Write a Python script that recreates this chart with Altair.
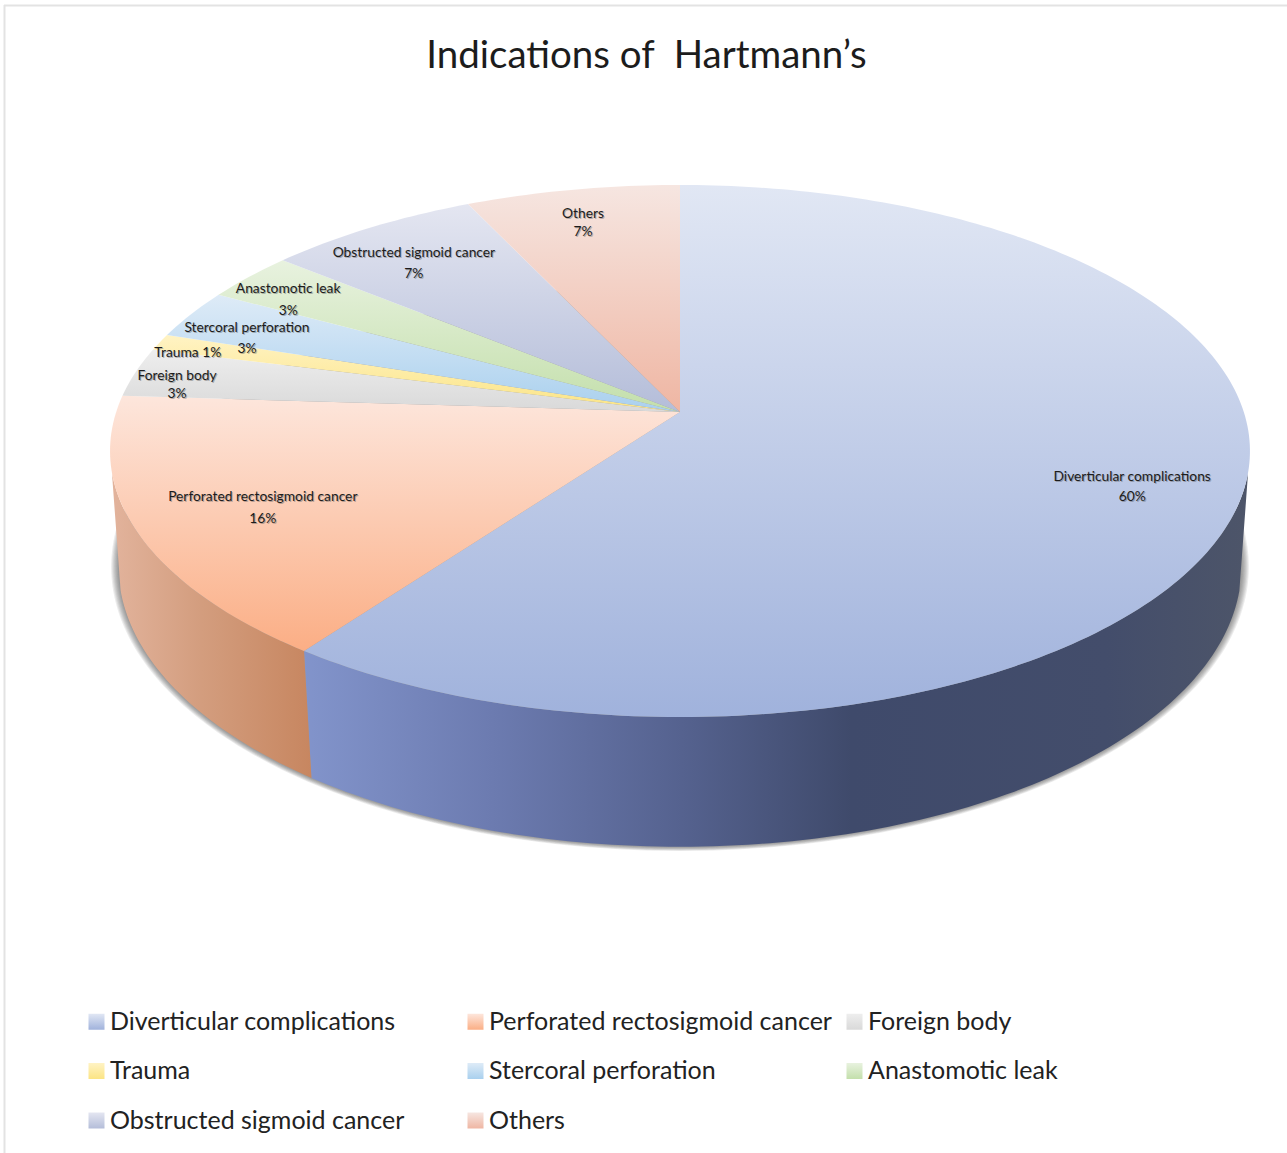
import math
import altair as alt
import pandas as pd

# Share of each indication, clockwise from twelve o'clock
categories = ["Diverticular complications", "Perforated rectosigmoid cancer", "Foreign body", "Trauma",
              "Stercoral perforation", "Anastomotic leak", "Obstructed sigmoid cancer", "Others"]
values = [60, 16, 3, 1, 3, 3, 7, 7]

# Upper and lower shade of each slice's vertical gradient
shade_top = ["#e1e7f4", "#fde6dc", "#eeeeee", "#fff3c4", "#deebf7", "#e8f2df", "#e4e6f1", "#f6e6e1"]
shade_bottom = ["#a0b2dc", "#fbae85", "#d9d9d9", "#fbe484", "#a9d0ee", "#c3dfab", "#b4bdd9", "#efb6a3"]

# Where the two text lines of each slice label sit, in pie coordinates
label_u = [0.802, -0.740, -0.892, -0.873, -0.768, -0.695, -0.472, -0.172]
label_v_name = [-0.246, -0.323, 0.142, 0.230, 0.327, 0.476, 0.615, 0.765]
label_v_pct = [-0.323, -0.407, 0.073, None, 0.246, 0.392, 0.534, 0.695]

# Perspective of the tilted disc: top face and bottom face
TILT_TOP = 0.1466
TILT_BOTTOM = 0.14
WIDTH_PX, HEIGHT_PX = 1287, 1153
CX, CY, RX, RY = 680.0, 412.0, 563.8, 260.3
BOTTOM_SCALE_X, BOTTOM_SCALE_Y, BOTTOM_DROP = 556.0 / RX, 275.0 / RY, 115.0 / RY
WALL_TURN = 103.0  # angle at which the disc's side wall leaves the silhouette


def top_face(deg):
    t = math.radians(deg)
    d = 1 + TILT_TOP * math.cos(t)
    return math.sin(t) / d, math.cos(t) / d


def bottom_face(deg, grow=1.0):
    t = math.radians(deg)
    d = 1 + TILT_BOTTOM * math.cos(t)
    return (grow * BOTTOM_SCALE_X * math.sin(t) / d,
            grow * BOTTOM_SCALE_Y * math.cos(t) / d - BOTTOM_DROP)


def sweep(a, b):
    n = max(2, int(abs(b - a)))
    return [a + (b - a) * i / n for i in range(n + 1)]


x_scale = alt.Scale(domain=[-CX / RX, (WIDTH_PX - CX) / RX], range=[0, WIDTH_PX], nice=False, zero=False)
y_scale = alt.Scale(domain=[(CY - HEIGHT_PX) / RY, CY / RY], range=[HEIGHT_PX, 0], nice=False, zero=False)
x_enc = alt.X("u:Q", scale=x_scale, axis=None)
y_enc = alt.Y("v:Q", scale=y_scale, axis=None)

# Top-face slices
rows = []
edges = [0]
for val in values:
    edges.append(edges[-1] + val * 3.6)
for i, cat in enumerate(categories):
    pts = [(0.0, 0.0)] + [top_face(d) for d in sweep(edges[i], edges[i + 1])]
    for j, (u, v) in enumerate(pts):
        rows.append({"category": cat, "step": j, "u": u, "v": v})
slices_df = pd.DataFrame(rows)


def gradient_expr(c0, c1):
    return {"expr": "{gradient:'linear',x1:0,y1:0,x2:0,y2:1,stops:[{offset:0,color:'%s'},{offset:1,color:'%s'}]}" % (c0, c1)}


slices = alt.Chart(slices_df).mark_line(strokeWidth=0, interpolate="linear").encode(
    x=x_enc,
    y=y_enc,
    order="step:Q",
    detail="category:N",
    fill=alt.Fill(
        "category:N",
        scale=alt.Scale(domain=categories, range=[gradient_expr(a, b) for a, b in zip(shade_top, shade_bottom)]),
        sort=categories,
        legend=alt.Legend(
            title=None, orient="none", legendX=84, legendY=1009, columns=3, gridAlign="all", direction="horizontal",
            symbolType="square", symbolSize=256, symbolStrokeWidth=0, symbolOpacity=1,
            labelFont="Lato", labelFontSize=25, labelColor="#222222", labelOffset=1,
            labelLimit=500, columnPadding=10, rowPadding=23.5, symbolOffset=0,
        ),
    ),
)


def wall(start, end, stops):
    pts = [top_face(d) for d in sweep(start, end)] + [bottom_face(d) for d in sweep(end, start)]
    df = pd.DataFrame({"u": [p[0] for p in pts], "v": [p[1] for p in pts], "step": range(len(pts))})
    grad = alt.LinearGradient(gradient="linear", stops=[alt.GradientStop(color=c, offset=o) for o, c in stops],
                              x1=0, x2=1, y1=0, y2=0)
    return alt.Chart(df).mark_line(fill=grad, strokeWidth=0).encode(x=x_enc, y=y_enc, order="step:Q")


wall_blue = wall(WALL_TURN, edges[1], [(0, "#8294cb"), (0.2, "#6c7bb0"), (0.4, "#55628f"), (0.58, "#3f4a6b"),
                                       (0.85, "#434d6b"), (1, "#4d5569")])
wall_orange = wall(edges[1], 360 - WALL_TURN, [(0, "#e2b39c"), (0.45, "#d39d7e"), (1, "#c78660")])

# Soft drop shadow of the disc, built up from faint enlarged outlines
shadows = []
for grow in [1.013, 1.011, 1.009, 1.007, 1.005, 1.003, 1.001]:
    pts = [bottom_face(d, grow) for d in sweep(0, 360)]
    df = pd.DataFrame({"u": [p[0] for p in pts], "v": [p[1] for p in pts], "step": range(len(pts))})
    shadows.append(alt.Chart(df).mark_line(fill="#444444", fillOpacity=0.1, strokeWidth=0).encode(
        x=x_enc, y=y_enc, order="step:Q"))

# Slice labels
label_rows = []
for i, cat in enumerate(categories):
    if label_v_pct[i] is None:
        label_rows.append({"text": f"{cat} {values[i]}%", "u": label_u[i], "v": label_v_name[i]})
    else:
        label_rows.append({"text": cat, "u": label_u[i], "v": label_v_name[i]})
        label_rows.append({"text": f"{values[i]}%", "u": label_u[i], "v": label_v_pct[i]})
labels_df = pd.DataFrame(label_rows)
label_shadow = alt.Chart(labels_df).mark_text(font="Lato", fontSize=13.8, color="#555555", opacity=0.4, dx=1, dy=2).encode(
    x=x_enc, y=y_enc, text="text:N")
label_text = alt.Chart(labels_df).mark_text(font="Lato", fontSize=13.8, color="#1c1c1c", dy=1).encode(
    x=x_enc, y=y_enc, text="text:N")

# Thin chart frame along the top and left edges
frame_top = alt.Chart(pd.DataFrame({"k": [0]})).mark_rule(color="#e3e3e3", strokeWidth=2).encode(
    x=alt.value(4), x2=alt.value(WIDTH_PX), y=alt.value(5.5))
frame_left = alt.Chart(pd.DataFrame({"k": [0]})).mark_rule(color="#e3e3e3", strokeWidth=2).encode(
    x=alt.value(4.5), y=alt.value(5), y2=alt.value(HEIGHT_PX))

chart = alt.layer(
    frame_top, frame_left, *shadows, wall_blue, wall_orange, slices, label_shadow, label_text
).properties(
    width=WIDTH_PX,
    height=HEIGHT_PX,
    padding=0,
    autosize=alt.AutoSizeParams(type="none"),
    background="white",
    title=alt.TitleParams(
        "Indications of\u00a0 Hartmann\u2019s", font="Lato", fontSize=38.5, fontWeight="normal", color="#1c1c1c",
        anchor="middle", offset=-76, dx=3,
    ),
).configure_view(stroke=None)

chart.save("out.html", embed_options={"renderer": "svg", "actions": False})
